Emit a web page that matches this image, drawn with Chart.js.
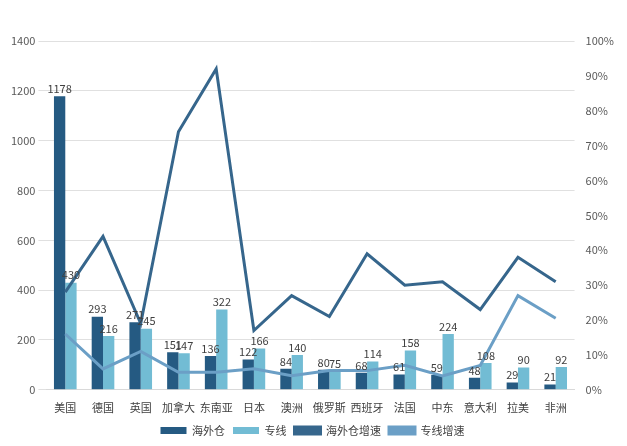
<!DOCTYPE html><html><head><meta charset="utf-8">
<script src="https://cdn.jsdelivr.net/npm/chart.js@4"></script>
<style>body{margin:0;background:#fff}#w{width:627px;height:446px}</style></head><body><div id="w"><canvas id="c"></canvas></div>
<script>
const categories=['美国','德国','英国','加拿大','东南亚','日本','澳洲','俄罗斯','西班牙','法国','中东','意大利','拉美','非洲'];
const warehouse=[1178,293,271,151,136,122,84,80,68,61,59,48,29,21];
const express=[430,216,245,147,322,166,140,75,114,158,224,108,90,92];
const warehouseGrowth=[28,44,19,74,92,17,27,21,39,30,31,23,38,31];
const expressGrowth=[16,6,11,5,5,6,4,5.5,5.5,7,4,7,27,20.5];
const font="'Noto Sans CJK SC','Noto Sans',sans-serif";
Chart.defaults.font.family=font;Chart.defaults.color='#595959';
const labelPlugin={id:'lbl',afterDatasetsDraw(ch){const ctx=ch.ctx;ctx.save();ctx.font='11px '+font;ctx.fillStyle='#404040';ctx.textAlign='center';ctx.textBaseline='bottom';
[0,1].forEach(i=>{ch.getDatasetMeta(i).data.forEach((b,j)=>{ctx.fillText(ch.data.datasets[i].data[j],b.x,b.y-2);});});ctx.restore();}};
new Chart(document.getElementById('c'),{type:'bar',data:{labels:categories,datasets:[
{label:'海外仓',data:warehouse,backgroundColor:'#255a82',yAxisID:'y',order:2,categoryPercentage:0.6,barPercentage:1},
{label:'专线',data:express,backgroundColor:'#72bcd4',yAxisID:'y',order:2,categoryPercentage:0.6,barPercentage:1},
{label:'海外仓增速',type:'line',data:warehouseGrowth,borderColor:'#36668c',backgroundColor:'#36668c',borderWidth:3,pointRadius:0,tension:0,yAxisID:'y1',order:1},
{label:'专线增速',type:'line',data:expressGrowth,borderColor:'#6b9fc6',backgroundColor:'#6b9fc6',borderWidth:3,pointRadius:0,tension:0,yAxisID:'y1',order:1}]},
options:{responsive:true,maintainAspectRatio:false,animation:false,layout:{padding:{top:41,right:10,left:8,bottom:0}},
plugins:{legend:{position:'bottom',labels:{boxWidth:26,boxHeight:7,padding:8,font:{size:11},color:'#404040',sort:(a,b)=>a.datasetIndex-b.datasetIndex}},tooltip:{enabled:false}},
scales:{x:{grid:{display:false},border:{color:'#d9d9d9'},ticks:{font:{size:11},color:'#404040',maxRotation:0,minRotation:0,autoSkip:false}},
y:{min:0,max:1400,ticks:{stepSize:200,font:{size:11},callback:v=>String(v)},grid:{color:'#e0e0e0'},border:{display:false}},
y1:{position:'right',min:0,max:100,ticks:{stepSize:10,callback:v=>v+'%',font:{size:11}},grid:{display:false},border:{display:false}}}},
plugins:[labelPlugin]});
</script></body></html>
